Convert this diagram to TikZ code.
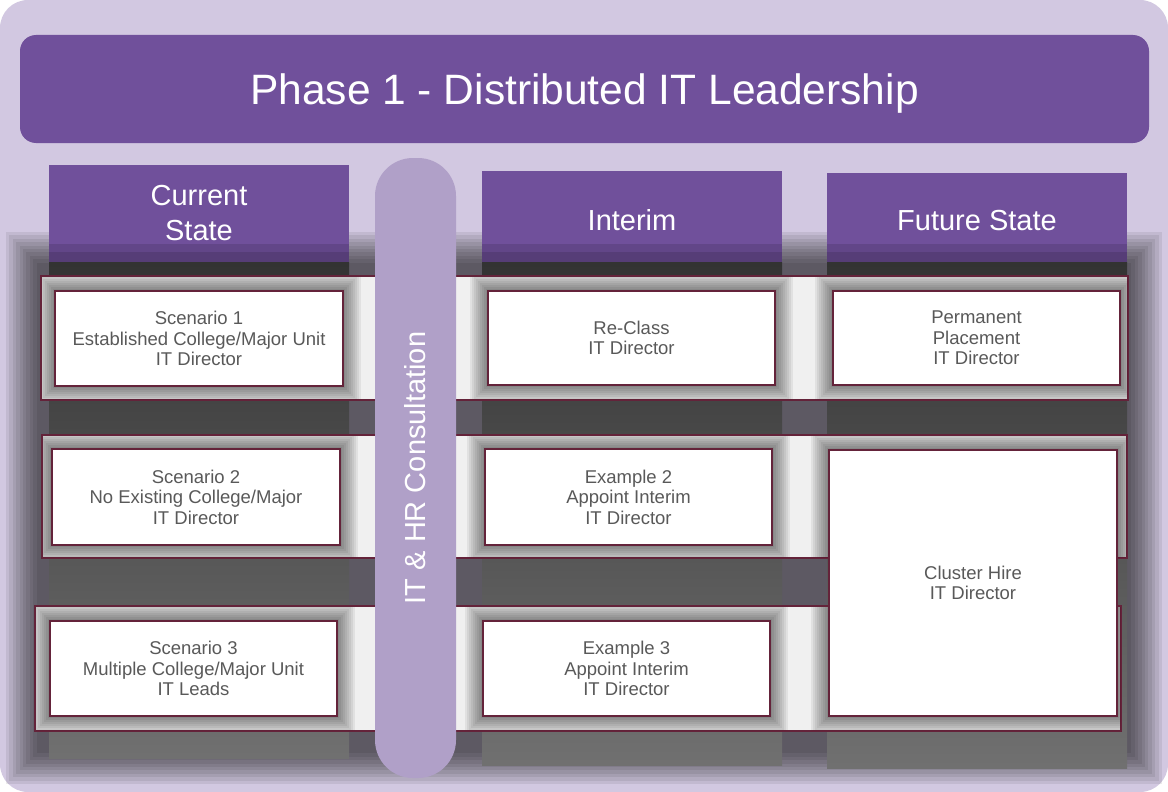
\documentclass[tikz,border=0pt]{standalone}
\usepackage{fontspec}
\setmainfont{Liberation Sans}
\definecolor{lav}{HTML}{D2C8E1}
\definecolor{deeppurple}{HTML}{70509B}
\definecolor{pillc}{HTML}{B0A0C8}
\definecolor{maroon}{HTML}{64233A}
\definecolor{boxtext}{HTML}{595959}
\begin{document}
\begin{tikzpicture}[x=1pt,y=-1pt,
  hdrtext/.style={text=white,font=\fontsize{29}{35}\selectfont,align=center,inner sep=0pt},
  band/.style={fill=white!94!black,draw=maroon,line width=1.6pt},
  cell/.style={fill=white,draw=maroon,line width=1.6pt,inner sep=2pt,
    text=boxtext,font=\fontsize{18.5}{20.5}\selectfont,align=center},
  colshade/.style={top color=black!80,bottom color=black!56}]
\useasboundingbox (0,0) rectangle (1168,792);
% page and panel
\fill[white] (0,0) rectangle (1168,792);
\fill[lav,rounded corners=28pt] (0,0) rectangle (1168,792);
% soft haze behind the rows
\foreach \i in {0,...,9}
  \fill[black,opacity=0.075] ({6+3.4*\i},{232+3.4*\i}) rectangle ({1162-3.4*\i},{784-3.4*\i});
% column headers
\fill[deeppurple] (49,165) rectangle (349,262);
\fill[deeppurple] (482,171) rectangle (782,262);
\fill[deeppurple] (827,173) rectangle (1127,262);
\foreach \xa/\xb in {49/349,482/782,827/1127}{
  \fill[black,opacity=0.12] (\xa,244) rectangle (\xb,262);
  \fill[black,opacity=0.12] (\xa,252) rectangle (\xb,262);
}
\node[hdrtext] (hcur) at (199,213) {Current\\State};
\node[hdrtext] (hint) at (632,220) {Interim};
\node[hdrtext] (hfut) at (977,221) {Future State};
% column shadows below the headers
\shade[colshade] (49,262) rectangle (349,758);
\shade[colshade] (482,262) rectangle (782,765);
\shade[colshade] (827,262) rectangle (1127,768);
% row bands
\draw[band] (41,276) rectangle (1128,400);
\draw[band] (42,435) rectangle (1127,558);
\draw[band] (35,606) rectangle (1121,731);
% soft shadows of the cells, kept inside the bands
\begin{scope}
  \clip (42,277) rectangle (1127,399) (43,436) rectangle (1126,557) (36,607) rectangle (1120,730);
  \foreach \xa/\ya/\xb/\yb in {55/291/343/386,488/291/775/385,833/291/1120/385,
      52/449/340/545,485/449/772/545,829/450/1117/716,50/621/337/716,483/621/770/716}{
    \foreach \e in {18,16,...,2}
      \fill[black,opacity=0.06] ({\xa-\e},{\ya-\e}) rectangle ({\xb+\e},{\yb+\e});
  }
\end{scope}
% cells
\node[cell,minimum width=288pt,minimum height=95pt] (s1) at (199,338.5)
  {Scenario 1\\Established College/Major Unit\\IT Director};
\node[cell,minimum width=287pt,minimum height=94pt] (rc) at (631.5,338)
  {Re-Class\\IT Director};
\node[cell,minimum width=287pt,minimum height=94pt] (pp) at (976.5,338)
  {Permanent\\Placement\\IT Director};
\node[cell,minimum width=288pt,minimum height=96pt] (s2) at (196,497)
  {Scenario 2\\No Existing College/Major\\IT Director};
\node[cell,minimum width=287pt,minimum height=96pt] (e2) at (628.5,497)
  {Example 2\\Appoint Interim\\IT Director};
\node[cell,minimum width=288pt,minimum height=266pt] (ch) at (973,583)
  {Cluster Hire\\IT Director};
\node[cell,minimum width=287pt,minimum height=95pt] (s3) at (193.5,668.5)
  {Scenario 3\\Multiple College/Major Unit\\IT Leads};
\node[cell,minimum width=287pt,minimum height=95pt] (e3) at (626.5,668.5)
  {Example 3\\Appoint Interim\\IT Director};
% consultation pill
\node[fill=pillc,rounded corners=38pt,rotate=90,minimum width=620pt,minimum height=81pt,
  inner sep=0pt,text=white,font=\fontsize{29}{35}\selectfont] (cons) at (415.5,468)
  {IT \& HR Consultation};
% title bar
\fill[deeppurple,rounded corners=16pt] (20,35) rectangle (1149,143);
\node[inner sep=0pt,text=white,font=\fontsize{42.5}{50}\selectfont] (title) at (584.5,94)
  {Phase 1 - Distributed IT Leadership};
\end{tikzpicture}
\end{document}
